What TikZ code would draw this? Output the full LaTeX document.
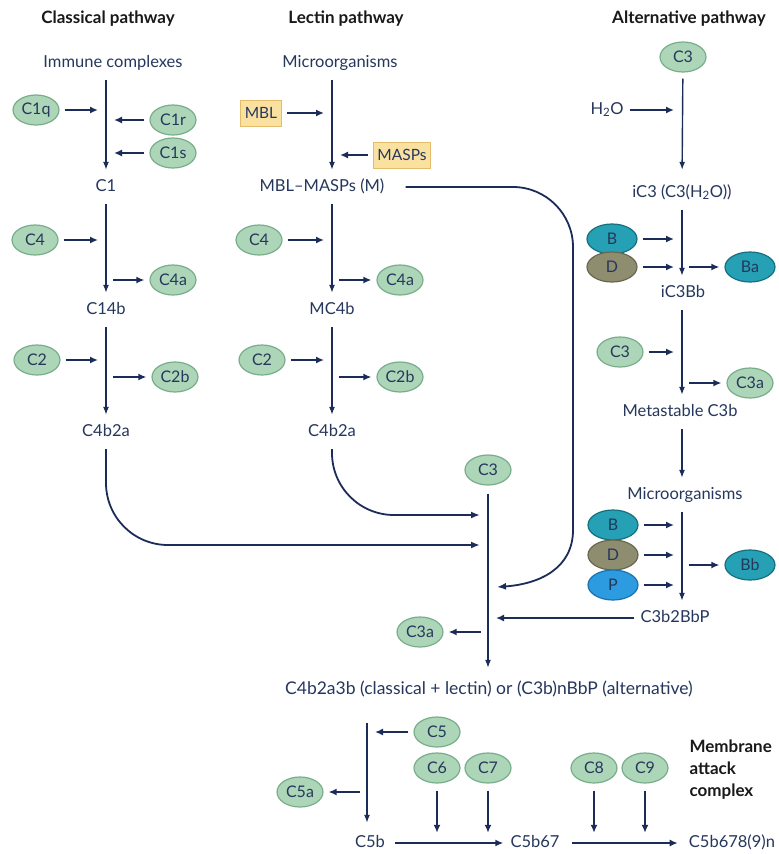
\documentclass[tikz,border=0pt]{standalone}
\usepackage{fontspec}
\setmainfont{Lato}
\usetikzlibrary{shapes.geometric,arrows.meta,positioning,calc}
\definecolor{Ink}{HTML}{26375C}
\definecolor{Navy}{HTML}{1A2C57}
\definecolor{Leaf}{HTML}{ADD6B8}
\definecolor{LeafRim}{HTML}{78AD89}
\definecolor{Sea}{HTML}{25A0B4}
\definecolor{SeaRim}{HTML}{14707F}
\definecolor{Moss}{HTML}{8E8D70}
\definecolor{MossRim}{HTML}{68684F}
\definecolor{Sky}{HTML}{2C9BDF}
\definecolor{SkyRim}{HTML}{1B73AE}
\definecolor{Sand}{HTML}{FBE1A0}
\definecolor{SandRim}{HTML}{E4BD6C}

\tikzset{
  lbl/.style={text=Ink,font=\fontsize{16.5}{19}\selectfont,inner sep=1pt,text height=12pt,text depth=4pt},
  head/.style={text=black!90,font=\fontsize{17}{22}\selectfont\bfseries,align=left},
  prot/.style={ellipse,draw=LeafRim,fill=Leaf,line width=1.2pt,minimum width=46pt,minimum height=30pt,inner sep=0pt,text=Ink,font=\fontsize{16}{18}\selectfont},
  sea/.style={prot,draw=SeaRim,fill=Sea,minimum width=50pt},
  moss/.style={prot,draw=MossRim,fill=Moss,minimum width=50pt},
  sky/.style={prot,draw=SkyRim,fill=Sky,minimum width=50pt},
  tag/.style={rectangle,draw=SandRim,fill=Sand,line width=1pt,minimum height=26pt,inner xsep=4pt,text=Ink,font=\fontsize{15.5}{17}\selectfont},
  main/.style={draw=Navy,line width=1.4pt,-{Latex[length=8pt,width=6pt]},shorten <=8pt,shorten >=8pt},
  feed/.style={draw=Navy,line width=2pt,-{Latex[length=8pt,width=7pt]},shorten <=5pt,shorten >=8pt},
  split/.style={feed,shorten <=7pt,shorten >=5pt},
  sweep/.style={draw=Navy,line width=1.8pt,-{Latex[length=9pt,width=7pt]}},
}

\begin{document}
\begin{tikzpicture}[x=1pt,y=-1pt]
  \useasboundingbox[fill=white] (0,0) rectangle (779,854);
  \coordinate (colC) at (106,0);
  \coordinate (colL) at (332,0);
  \coordinate (colA) at (682,0);
  \coordinate (colM) at (488,0);
  \coordinate (colB) at (367,0);
  \coordinate (joinA) at (480,545);
  \coordinate (joinB) at (480,515);
  \coordinate (joinM) at (497,587);

  \node[head] (hcl) at (108,19) {Classical pathway};
  \node[head] (hlec) at (346,19) {Lectin pathway};
  \node[head] (halt) at (689,19) {Alternative pathway};

  \node[lbl] (imm) at (113,63) {Immune complexes};
  \node[lbl] (c1) at (106,187) {C1};
  \node[lbl] (c14b) at (106,310) {C14b};
  \node[lbl] (c4b2a) at (106,432) {C4b2a};
  \node[prot] (c1q) at (36,110) {C1q};
  \node[prot] (c1r) at (173,120) {C1r};
  \node[prot] (c1s) at (173,153) {C1s};
  \node[prot] (c4) at (35,240) {C4};
  \node[prot] (c4a) at (173,280) {C4a};
  \node[prot] (c2) at (37,360) {C2};
  \node[prot] (c2b) at (175,377) {C2b};

  \draw[main] (imm.south -| colC) -- (c1.north -| colC);
  \draw[main] (c1.south -| colC) -- (c14b.north -| colC);
  \draw[main] (c14b.south -| colC) -- (c4b2a.north -| colC);
  \foreach \p in {c1q,c1r,c1s,c4,c2}
    \draw[feed] (\p) -- (\p -| colC);
  \foreach \p in {c4a,c2b}
    \draw[split] (\p -| colC) -- (\p);

  \node[lbl] (mic1) at (340,63) {Microorganisms};
  \node[tag] (mbl) at (261,113) {MBL};
  \node[tag] (masp) at (402,155) {MASPs};
  \node[lbl] (mblm) at (322,187) {MBL–MASPs (M)};
  \node[lbl] (mc4b) at (332,310) {MC4b};
  \node[lbl] (lc4b2a) at (332,432) {C4b2a};
  \node[prot] (lc4) at (259,240) {C4};
  \node[prot] (lc4a) at (400,280) {C4a};
  \node[prot] (lc2) at (262,360) {C2};
  \node[prot] (lc2b) at (400,377) {C2b};

  \draw[main] (mic1.south -| colL) -- (mblm.north -| colL);
  \draw[main] (mblm.south -| colL) -- (mc4b.north -| colL);
  \draw[main] (mc4b.south -| colL) -- (lc4b2a.north -| colL);
  \foreach \p in {mbl,masp,lc4,lc2}
    \draw[feed] (\p) -- (\p -| colL);
  \foreach \p in {lc4a,lc2b}
    \draw[split] (\p -| colL) -- (\p);

  \node[prot] (c3t) at (683,57) {C3};
  \node[lbl] (h2o) at (607,110) {H\textsubscript{2}O};
  \node[lbl] (ic3) at (682,193) {iC3 (C3(H\textsubscript{2}O))};
  \node[sea] (b1) at (612,239) {B};
  \node[moss] (d1) at (612,267) {D};
  \node[sea] (ba) at (750,267) {Ba};
  \node[lbl] (ic3bb) at (683,293) {iC3Bb};
  \node[prot] (c3m) at (620,352) {C3};
  \node[prot] (c3a1) at (750,383) {C3a};
  \node[lbl] (meta) at (680,412) {Metastable C3b};
  \node[lbl] (mic2) at (685,495) {Microorganisms};
  \node[sea] (b2) at (613,525) {B};
  \node[moss] (d2) at (613,555) {D};
  \node[sky] (p2) at (613,585) {P};
  \node[sea] (bb) at (750,565) {Bb};
  \node[lbl] (c3bp) at (675,618) {C3b2BbP};

  \draw[main,shorten <=6pt,shorten >=14pt] (c3t) -- (ic3.north -| colA);
  \draw[main] (ic3.south -| colA) -- (ic3bb.north -| colA);
  \draw[main] (ic3bb.south -| colA) -- (meta.north -| colA);
  \draw[main] (meta.south -| colA) -- (mic2.north -| colA);
  \draw[main] (mic2.south -| colA) -- (c3bp.north -| colA);
  \foreach \p in {h2o,b1,d1,c3m,b2,d2,p2}
    \draw[feed] (\p) -- (\p -| colA);
  \foreach \p in {ba,c3a1,bb}
    \draw[split] (\p -| colA) -- (\p);

  \node[prot] (c3c) at (488,470) {C3};
  \node[prot] (c3a2) at (420,632) {C3a};
  \node[lbl,font=\fontsize{17.5}{19}\selectfont] (fin) at (489,690) {C4b2a3b (classical + lectin) or (C3b)nBbP (alternative)};

  \draw[main,shorten <=8pt,shorten >=13pt] (c3c) -- (fin.north -| colM);
  \draw[sweep,rounded corners=62pt,shorten <=8pt] (c4b2a.south) -- (c4b2a.south |- joinA) -- (joinA);
  \draw[sweep,rounded corners=62pt,shorten <=8pt] (lc4b2a.south) -- (lc4b2a.south |- joinB) -- (joinB);
  \draw[sweep,shorten <=20pt] (mblm.east) -- (513,187) .. controls (546,187) and (573,214) .. (573,247) -- (573,530) .. controls (573,568) and (540,584) .. (joinM);
  \draw[feed] (c3bp) -- (c3bp -| colM);
  \draw[split] (c3a2 -| colM) -- (c3a2);

  \node[prot] (c5) at (437,732) {C5};
  \node[prot] (c6) at (437,768) {C6};
  \node[prot] (c7) at (488,768) {C7};
  \node[prot] (c8) at (594,768) {C8};
  \node[prot] (c9) at (645,768) {C9};
  \node[prot] (c5a) at (300,792) {C5a};
  \node[lbl] (c5b) at (370,843) {C5b};
  \node[lbl] (c5b67) at (535,843) {C5b67};
  \node[lbl] (mac) at (732,843) {C5b678(9)n};
  \node[head,anchor=west] (mtext) at (686,770) {Membrane\\attack\\complex};

  \draw[main,shorten <=24pt,shorten >=11pt] (fin.south -| colB) -- (c5b.north -| colB);
  \draw[feed] (c5) -- (c5 -| colB);
  \draw[split] (c5a -| colB) -- (c5a);
  \foreach \p in {c6,c7,c8,c9}
    \draw[feed,shorten <=7pt,shorten >=1pt] (\p) -- (\p |- c5b67.north);
  \draw[feed,shorten <=9pt,shorten >=6pt] (c5b) -- (c5b67);
  \draw[feed,shorten <=11pt,shorten >=10pt] (c5b67) -- (mac);
\end{tikzpicture}
\end{document}
